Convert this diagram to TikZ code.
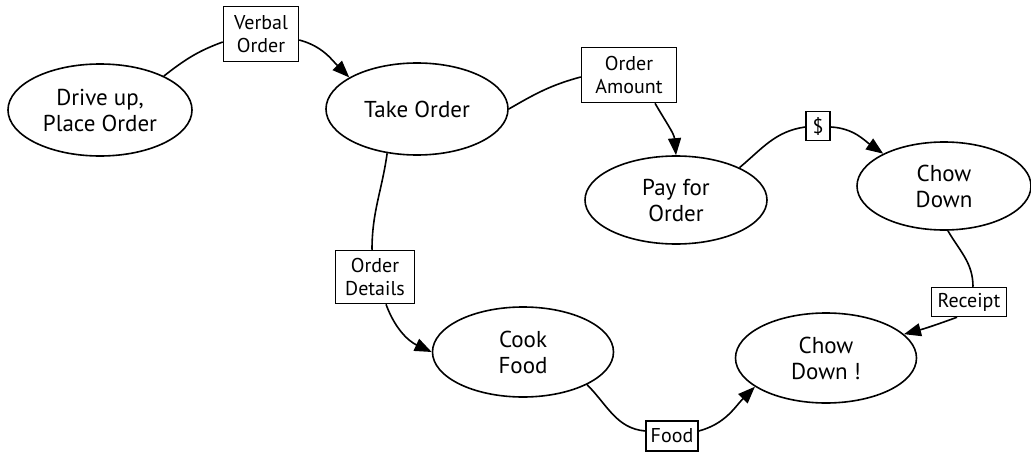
\documentclass[tikz,border=0pt]{standalone}
\usepackage{fontspec}
\setmainfont{PT Sans}
\usetikzlibrary{shapes.geometric,arrows.meta}
\begin{document}
\begin{tikzpicture}[x=1pt,y=1pt,
  proc/.style={draw,ellipse,line width=1.6pt,inner sep=0pt,align=center,font=\fontsize{23}{26}\selectfont},
  lbl/.style={draw,rectangle,line width=1.5pt,inner sep=0pt,align=center,fill=white,font=\fontsize{20}{23}\selectfont},
  flow/.style={line width=1.6pt},
  arr/.style={line width=1.6pt,-{Triangle[length=17pt,width=13pt]}}]
\useasboundingbox (0,0) rectangle (1031,451);
% processes
\node[proc,minimum width=184pt,minimum height=92pt] (drive) at (100,341) {Drive up,\\Place Order};
\node[proc,minimum width=182pt,minimum height=92pt] (take) at (417,342) {Take Order};
\node[proc,minimum width=182pt,minimum height=88pt] (pay) at (676,251) {Pay for\\Order};
\node[proc,minimum width=174pt,minimum height=88pt] (chow) at (944,265) {Chow\\Down};
\node[proc,minimum width=181pt,minimum height=90pt] (cook) at (523,99) {Cook\\Food};
\node[proc,minimum width=181pt,minimum height=90pt] (chow2) at (826,93) {Chow\\Down !};
% labels
\node[lbl,minimum width=75pt,minimum height=55pt] (verbal) at (261,417) {Verbal\\Order};
\node[lbl,minimum width=95pt,minimum height=55pt] (amount) at (629,376) {Order\\Amount};
\node[lbl,minimum width=24pt,minimum height=29pt] (dollar) at (818,325) {\$};
\node[lbl,minimum width=79pt,minimum height=53pt] (details) at (375,174) {Order\\Details};
\node[lbl,minimum width=52pt,minimum height=30pt] (food) at (672,15) {Food};
\node[lbl,minimum width=75pt,minimum height=29pt] (receipt) at (969,149) {Receipt};
% connectors
\draw[flow] (drive.28) to[out=38,in=200] ([yshift=-8pt]verbal.west);
\draw[arr] ([yshift=-6pt]verbal.east) to[out=-15,in=135] (take.155);
\draw[flow] (take.east) to[out=30,in=195] ([yshift=-2pt]amount.west);
\draw[arr] ([xshift=26pt]amount.south) to[out=-60,in=95] (pay.north);
\draw[flow] (pay.27) to[out=40,in=188] ([yshift=-1pt]dollar.west);
\draw[arr] ([yshift=-1pt]dollar.east) to[out=-3,in=145] (chow.152);
\draw[flow] (take.-124) to[out=-98,in=90] ([xshift=-3pt]details.north);
\draw[arr] ([xshift=11pt]details.south) to[out=-70,in=155] (cook.west);
\draw[flow] (cook.-27) to[out=-45,in=175] ([yshift=5pt]food.west);
\draw[arr] ([yshift=5pt]food.east) to[out=15,in=225] (chow2.-158);
\draw[flow] (chow.-85) to[out=-60,in=90] ([xshift=4pt]receipt.north);
\draw[arr] ([xshift=-12pt]receipt.south) to[out=-160,in=15] (chow2.17);
\end{tikzpicture}
\end{document}
